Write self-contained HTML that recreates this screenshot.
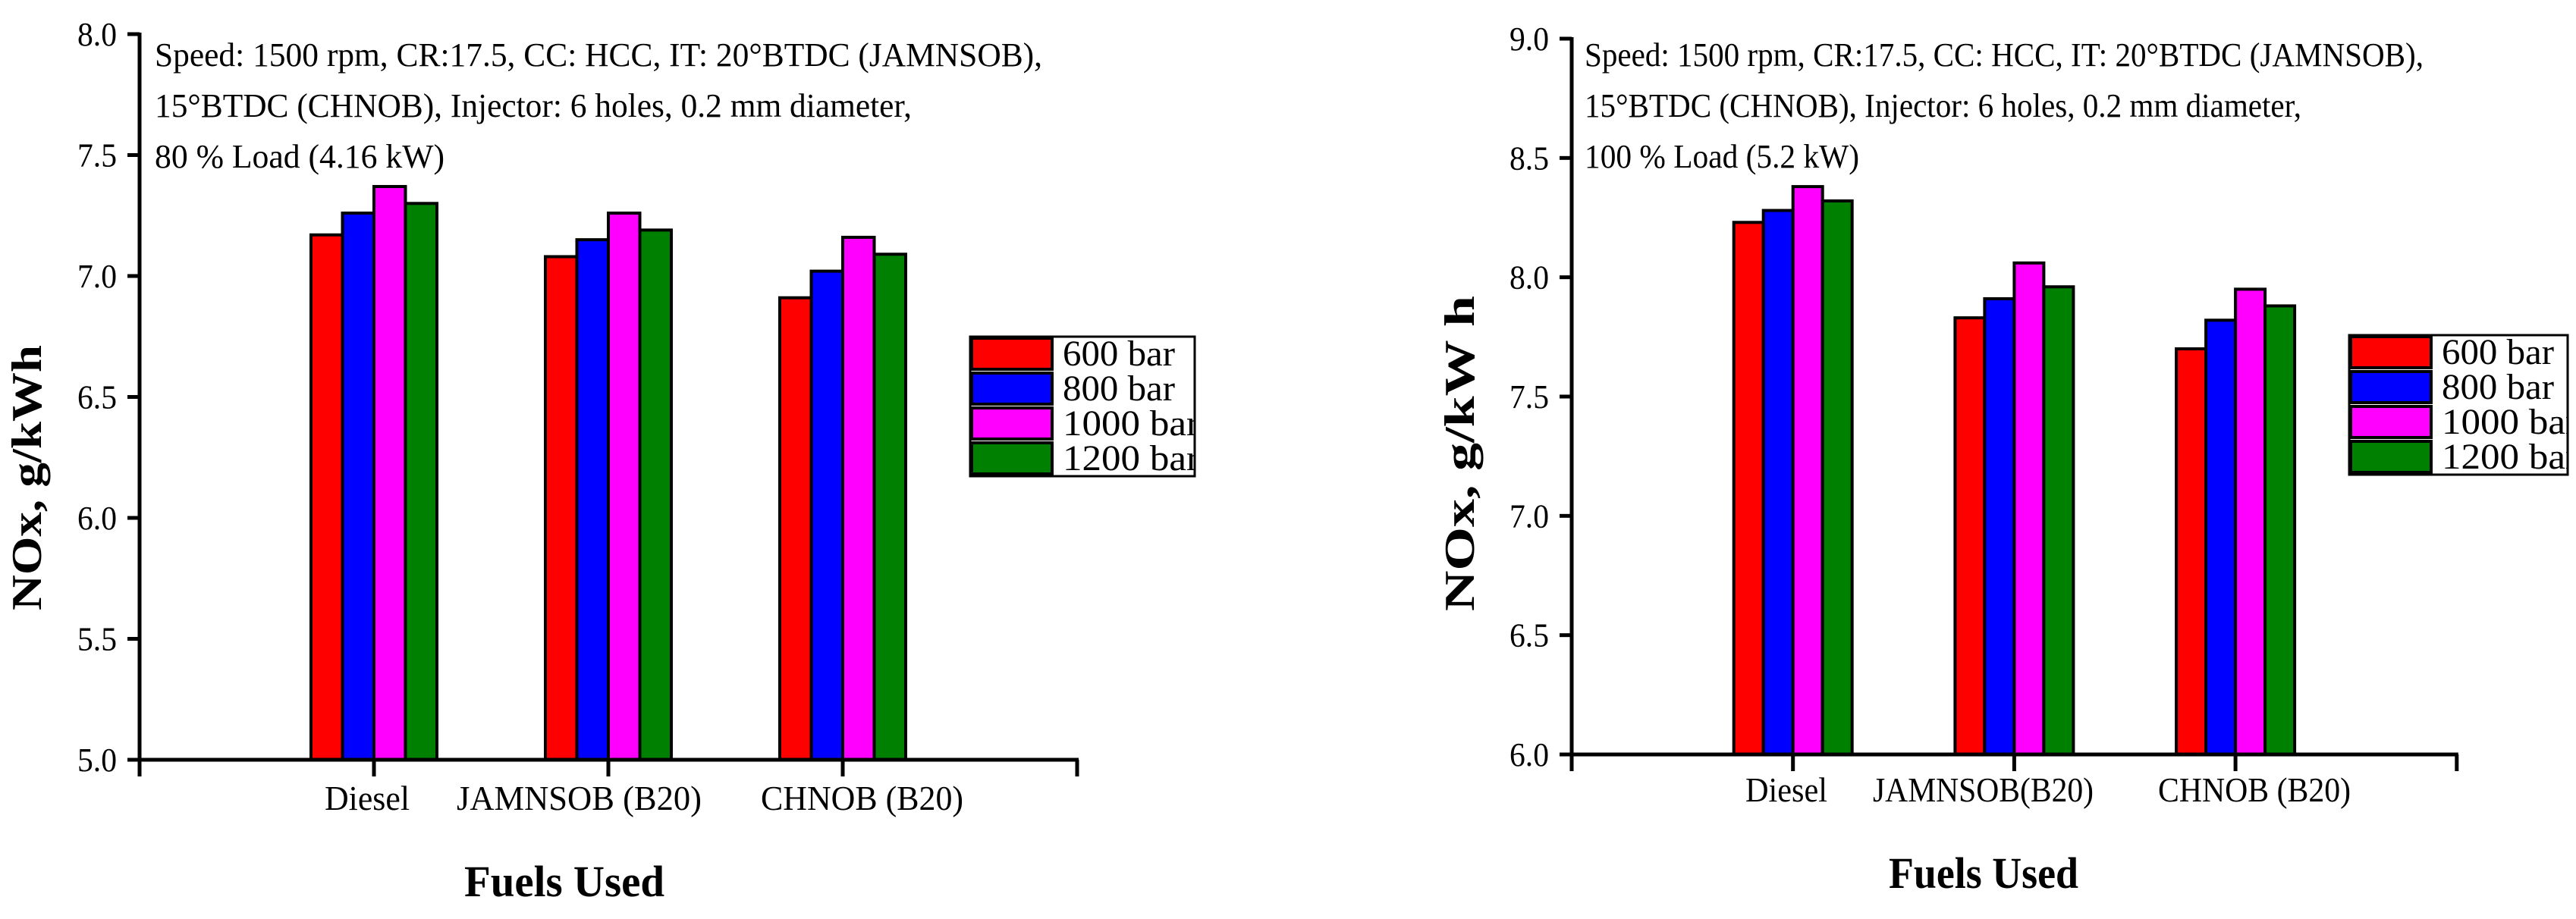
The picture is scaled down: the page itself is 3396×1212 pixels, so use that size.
<!DOCTYPE html>
<html><head><meta charset="utf-8"><style>
html,body{margin:0;padding:0;background:#fff;}
svg{display:block;}
svg text{font-family:"Liberation Serif","DejaVu Serif",serif;}
</style></head><body>
<svg id="svg" width="3396" height="1212" viewBox="0 0 3396 1212" xmlns="http://www.w3.org/2000/svg"></svg>
<script>
const categories = ["Diesel", "JAMNSOB (B20)", "CHNOB (B20)"];
const categoriesRight = ["Diesel", "JAMNSOB(B20)", "CHNOB (B20)"];
const seriesNames = ["600 bar", "800 bar", "1000 bar", "1200 bar"];
const seriesColors = ["#ff0000", "#0000ff", "#ff00ff", "#008000"];
const leftValues600 = [7.17, 7.08, 6.91];
const leftValues800 = [7.26, 7.15, 7.02];
const leftValues1000 = [7.37, 7.26, 7.16];
const leftValues1200 = [7.30, 7.19, 7.09];
const rightValues600 = [8.23, 7.83, 7.70];
const rightValues800 = [8.28, 7.91, 7.82];
const rightValues1000 = [8.38, 8.06, 7.95];
const rightValues1200 = [8.32, 7.96, 7.88];
const leftTicks = ["5.0", "5.5", "6.0", "6.5", "7.0", "7.5", "8.0"];
const rightTicks = ["6.0", "6.5", "7.0", "7.5", "8.0", "8.5", "9.0"];

const NS = "http://www.w3.org/2000/svg";
const svg = document.getElementById("svg");
function mk(tag, attrs, parent) {
  const e = document.createElementNS(NS, tag);
  for (const k in attrs) e.setAttribute(k, attrs[k]);
  (parent || svg).appendChild(e);
  return e;
}
function txt(s, x, y, size, opts, parent) {
  const a = Object.assign({x: x, y: y, "font-size": size, fill: "#000", "font-family": "Liberation Serif, DejaVu Serif, serif"}, opts || {});
  const t = mk("text", a, parent);
  t.textContent = s;
  return t;
}

function drawChart(cfg) {
  const g = mk("g", {});
  
  
  const yScale = v => cfg.y0 + (v - cfg.vmin) / (cfg.vmax - cfg.vmin) * (cfg.y1 - cfg.y0);
  const xCenter = i => cfg.ax + cfg.step * (i + 1);

  const series = cfg.series;
  for (let s = 0; s < series.length; s++) {
    for (let i = 0; i < series[s].length; i++) {
      const v = series[s][i];
      const x = xCenter(i) - cfg.bw * 2 + s * cfg.bw;
      const yt = yScale(v);
      const r = mk("rect", {x: x, y: yt, width: cfg.bw, height: cfg.y0 - yt, fill: seriesColors[s], stroke: "#000", "stroke-width": 4}, g);
      
      
    }
  }
  const yax = mk("line", {x1: cfg.ax, y1: cfg.y1 - 2, x2: cfg.ax, y2: cfg.y0 + 22, stroke: "#000", "stroke-width": 5}, g);
  
  
  const xEnd = cfg.ax + cfg.step * 4;
  const xax = mk("line", {x1: cfg.ax - 16, y1: cfg.y0, x2: xEnd + 2, y2: cfg.y0, stroke: "#000", "stroke-width": 5}, g);
  
  
  mk("line", {x1: xEnd, y1: cfg.y0, x2: xEnd, y2: cfg.y0 + 22, stroke: "#000", "stroke-width": 5}, g);
  for (let k = 0; k < cfg.ticks.length; k++) {
    const v = parseFloat(cfg.ticks[k]);
    const y = yScale(v);
    mk("line", {x1: cfg.ax - 16, y1: y, x2: cfg.ax, y2: y, stroke: "#000", "stroke-width": 5}, g);
    const t = txt(cfg.ticks[k], cfg.ax - 30, y + 15, 44, {"text-anchor": "end", textLength: 52, lengthAdjust: "spacingAndGlyphs"}, g);
    
    
  }
  for (let i = 0; i < cfg.cats.length; i++) {
    const x = xCenter(i);
    mk("line", {x1: x, y1: cfg.y0, x2: x, y2: cfg.y0 + 22, stroke: "#000", "stroke-width": 5}, g);
    const t = txt(cfg.cats[i], cfg.catX[i], cfg.catY, 46, {textLength: cfg.catW[i], lengthAdjust: "spacingAndGlyphs"}, g);
    
    
  }
  for (let l = 0; l < cfg.notes.length; l++) {
    const t = txt(cfg.notes[l], cfg.noteX, 87 + l * 67, 44, {textLength: cfg.noteW[l], lengthAdjust: "spacingAndGlyphs"}, g);
    
    
  }
  const yt = txt(cfg.yTitle, 0, 0, 56, {"font-weight": "bold", "text-anchor": "middle", transform: "translate(" + (cfg.ytX + 20) + "," + cfg.ytY + ") rotate(-90)", textLength: cfg.ytLen, lengthAdjust: "spacingAndGlyphs"}, g);
  
  
  const xt = txt("Fuels Used", cfg.xtX, cfg.xtY, 58, {"font-weight": "bold", textLength: cfg.xtLen, lengthAdjust: "spacingAndGlyphs"}, g);
  
  
  const lg = mk("g", {}, g);
  
  
  const LH = 184, P = 46;
  mk("rect", {x: cfg.lx, y: cfg.ly, width: cfg.lw, height: LH, fill: "#fff", stroke: "#000", "stroke-width": 3}, lg);
  const cp = mk("clipPath", {id: "clip-" + cfg.name}, lg);
  mk("rect", {x: cfg.lx, y: cfg.ly, width: cfg.lw, height: LH}, cp);
  for (let s = 0; s < seriesNames.length; s++) {
    const e = mk("g", {}, lg);
    
    
    mk("rect", {x: cfg.lx + 2, y: cfg.ly + 2 + s * P, width: 106, height: P - 5, fill: seriesColors[s], stroke: "#000", "stroke-width": 4}, e);
    txt(seriesNames[s], cfg.lx + 122, cfg.ly + 38 + s * P, 48, {"clip-path": "url(#clip-" + cfg.name + ")", textLength: seriesNames[s].length > 7 ? 180 : 148, lengthAdjust: "spacingAndGlyphs"}, e);
  }
}

drawChart({
  name: "chart-80-load", ax: 184, step: 309, bw: 41.5, y0: 1002, y1: 45, vmin: 5, vmax: 8,
  series: [leftValues600, leftValues800, leftValues1000, leftValues1200],
  ticks: leftTicks, cats: categories,
  catX: [428, 602, 1003], catW: [112, 323, 267], catY: 1068,
  notes: ["Speed: 1500 rpm, CR:17.5, CC: HCC, IT: 20\u00b0BTDC (JAMNSOB),", "15\u00b0BTDC (CHNOB), Injector: 6 holes, 0.2 mm diameter,", "80 % Load (4.16 kW)"],
  noteX: 204, noteW: [1170, 998, 382],
  yTitle: "NOx, g/kWh", ytX: 34, ytY: 630, ytLen: 350,
  xtX: 612, xtY: 1182, xtLen: 264,
  lx: 1279, ly: 444, lw: 296
});
drawChart({
  name: "chart-100-load", ax: 2072, step: 291.7, bw: 39, y0: 995, y1: 51, vmin: 6, vmax: 9,
  series: [rightValues600, rightValues800, rightValues1000, rightValues1200],
  ticks: rightTicks, cats: categoriesRight,
  catX: [2301, 2469, 2845], catW: [108, 291, 254], catY: 1057,
  notes: ["Speed: 1500 rpm, CR:17.5, CC: HCC, IT: 20\u00b0BTDC (JAMNSOB),", "15\u00b0BTDC (CHNOB), Injector: 6 holes, 0.2 mm diameter,", "100 % Load (5.2 kW)"],
  noteX: 2089, noteW: [1106, 945, 362],
  yTitle: "NOx, g/kW h", ytX: 1923, ytY: 598, ytLen: 416,
  xtX: 2490, xtY: 1171, xtLen: 250,
  lx: 3097, ly: 442, lw: 288
});
</script>
</body></html>
